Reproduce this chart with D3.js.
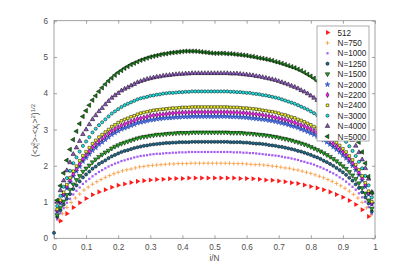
<!DOCTYPE html>
<html lang="en">
<head>
<meta charset="UTF-8">
<title>fluctuation profile</title>
<script src="https://d3js.org/d3.v7.min.js"></script>
<style>
  body { margin: 0; background: #fff; }
  svg { display: block; font-family: "Liberation Sans", Arial, sans-serif; }
</style>
</head>
<body>
<div id="chart"></div>
<script>
// series labels, in legend order
const seriesNames = ["512", "N=750", "N=1000", "N=1250", "N=1500", "N=2000", "N=2200", "N=2400", "N=3000", "N=4000", "N=5000"];

// values, x = i/n
const vals512 = [.48,.68,.85,.98,1.10,1.20,1.28,1.34,1.41,1.46,1.50,1.54,1.57,1.59,1.61,1.62,1.63,1.64,1.65,1.65,1.66,1.66,1.66,1.66,1.66,1.66,1.66,1.66,1.65,1.65,1.64,1.63,1.61,1.60,1.58,1.56,1.53,1.51,1.47,1.43,1.39,1.34,1.28,1.21,1.13,1.04,.93,.79,.60];
const vals750 = [.51,.68,.85,.99,1.11,1.22,1.33,1.41,1.49,1.56,1.62,1.68,1.73,1.78,1.82,1.86,1.89,1.91,1.94,1.97,1.98,2.00,2.01,2.02,2.03,2.04,2.05,2.05,2.06,2.06,2.06,2.07,2.07,2.07,2.07,2.07,2.07,2.07,2.07,2.07,2.07,2.06,2.06,2.06,2.05,2.04,2.03,2.03,2.02,2.01,1.99,1.98,1.96,1.94,1.93,1.90,1.88,1.85,1.82,1.79,1.75,1.71,1.67,1.62,1.57,1.51,1.45,1.38,1.30,1.21,1.11,.99,.84,.64];
const vals1000 = [.52,.69,.83,.98,1.09,1.21,1.31,1.40,1.50,1.57,1.64,1.71,1.77,1.83,1.88,1.93,1.98,2.02,2.06,2.09,2.13,2.15,2.18,2.20,2.23,2.25,2.27,2.28,2.29,2.31,2.32,2.33,2.33,2.34,2.35,2.35,2.36,2.36,2.37,2.37,2.37,2.38,2.38,2.38,2.38,2.38,2.38,2.38,2.38,2.38,2.38,2.38,2.38,2.38,2.38,2.37,2.37,2.37,2.36,2.36,2.35,2.35,2.34,2.33,2.32,2.31,2.30,2.29,2.28,2.27,2.25,2.23,2.22,2.20,2.18,2.16,2.13,2.11,2.08,2.06,2.03,1.99,1.96,1.92,1.88,1.83,1.79,1.74,1.68,1.63,1.56,1.49,1.42,1.34,1.24,1.13,1.01,.86,.67];
const vals1250 = [.15,.59,.77,.93,1.09,1.22,1.36,1.46,1.57,1.68,1.76,1.84,1.92,1.98,2.05,2.10,2.15,2.21,2.26,2.30,2.34,2.38,2.41,2.43,2.46,2.49,2.51,2.53,2.55,2.56,2.58,2.59,2.60,2.61,2.62,2.63,2.63,2.64,2.64,2.65,2.65,2.65,2.65,2.66,2.66,2.66,2.66,2.66,2.66,2.66,2.66,2.66,2.66,2.66,2.66,2.65,2.65,2.65,2.65,2.64,2.64,2.63,2.62,2.61,2.61,2.60,2.59,2.57,2.56,2.55,2.53,2.52,2.50,2.48,2.46,2.44,2.41,2.39,2.36,2.33,2.30,2.26,2.23,2.19,2.14,2.10,2.05,2.00,1.94,1.88,1.82,1.75,1.67,1.59,1.49,1.39,1.27,1.13,.96,.74];
const vals1500 = [.64,.85,1.02,1.20,1.34,1.49,1.61,1.72,1.84,1.93,2.01,2.10,2.18,2.25,2.31,2.37,2.42,2.48,2.53,2.57,2.61,2.64,2.67,2.70,2.73,2.76,2.78,2.80,2.81,2.83,2.84,2.86,2.86,2.87,2.88,2.89,2.89,2.90,2.91,2.91,2.91,2.91,2.92,2.92,2.92,2.92,2.92,2.92,2.92,2.92,2.92,2.92,2.92,2.92,2.91,2.91,2.91,2.91,2.90,2.89,2.89,2.88,2.87,2.86,2.85,2.84,2.83,2.81,2.80,2.78,2.76,2.74,2.72,2.70,2.67,2.65,2.62,2.59,2.56,2.52,2.48,2.44,2.40,2.35,2.30,2.25,2.19,2.13,2.06,1.99,1.92,1.83,1.74,1.64,1.52,1.39,1.24,1.05,.82];
const vals2000 = [.74,.97,1.18,1.38,1.55,1.71,1.85,1.98,2.12,2.22,2.32,2.42,2.50,2.59,2.65,2.72,2.79,2.86,2.91,2.96,3.01,3.04,3.07,3.11,3.14,3.18,3.20,3.22,3.24,3.26,3.27,3.29,3.30,3.31,3.32,3.32,3.33,3.34,3.34,3.35,3.35,3.35,3.36,3.36,3.36,3.36,3.36,3.36,3.36,3.36,3.36,3.36,3.36,3.36,3.35,3.35,3.35,3.34,3.34,3.33,3.32,3.31,3.30,3.29,3.28,3.27,3.25,3.24,3.22,3.20,3.18,3.16,3.13,3.10,3.08,3.05,3.01,2.98,2.94,2.90,2.86,2.81,2.76,2.71,2.65,2.59,2.52,2.45,2.38,2.29,2.21,2.11,2.00,1.88,1.75,1.60,1.42,1.21,.94];
const vals2200 = [.77,1.01,1.22,1.43,1.60,1.77,1.91,2.05,2.19,2.30,2.40,2.51,2.59,2.68,2.75,2.82,2.89,2.96,3.01,3.06,3.11,3.15,3.18,3.22,3.25,3.29,3.31,3.33,3.35,3.38,3.39,3.40,3.41,3.42,3.43,3.44,3.45,3.46,3.46,3.47,3.47,3.47,3.48,3.48,3.48,3.48,3.48,3.48,3.48,3.48,3.48,3.48,3.48,3.48,3.47,3.47,3.47,3.46,3.46,3.45,3.44,3.43,3.42,3.41,3.40,3.38,3.37,3.35,3.33,3.31,3.29,3.27,3.24,3.22,3.19,3.16,3.12,3.09,3.05,3.01,2.96,2.91,2.86,2.80,2.75,2.68,2.61,2.54,2.46,2.38,2.29,2.19,2.07,1.95,1.81,1.66,1.48,1.25,.97];
const vals2400 = [.80,1.05,1.27,1.48,1.67,1.85,1.99,2.14,2.28,2.39,2.50,2.61,2.70,2.79,2.86,2.93,3.00,3.08,3.13,3.19,3.24,3.28,3.31,3.35,3.38,3.42,3.45,3.47,3.49,3.51,3.53,3.54,3.55,3.56,3.57,3.58,3.59,3.59,3.60,3.61,3.61,3.61,3.62,3.62,3.62,3.62,3.62,3.62,3.62,3.62,3.62,3.62,3.62,3.62,3.61,3.61,3.61,3.60,3.59,3.59,3.58,3.57,3.56,3.55,3.53,3.52,3.50,3.49,3.47,3.45,3.42,3.40,3.37,3.34,3.32,3.28,3.25,3.21,3.17,3.13,3.08,3.03,2.98,2.92,2.86,2.79,2.72,2.64,2.56,2.47,2.38,2.27,2.16,2.03,1.89,1.72,1.53,1.30,1.01];
const vals3000 = [.89,1.17,1.42,1.66,1.86,2.07,2.23,2.39,2.55,2.67,2.79,2.92,3.02,3.12,3.20,3.28,3.36,3.44,3.50,3.56,3.62,3.67,3.71,3.75,3.79,3.83,3.86,3.88,3.90,3.93,3.94,3.96,3.97,3.99,4.00,4.01,4.01,4.02,4.03,4.03,4.04,4.04,4.05,4.05,4.05,4.05,4.05,4.05,4.05,4.05,4.05,4.05,4.05,4.05,4.04,4.04,4.03,4.03,4.02,4.01,4.01,3.99,3.98,3.97,3.95,3.94,3.92,3.90,3.88,3.86,3.83,3.80,3.77,3.74,3.71,3.67,3.63,3.59,3.55,3.50,3.45,3.39,3.33,3.26,3.20,3.12,3.04,2.96,2.86,2.77,2.66,2.54,2.41,2.27,2.11,1.93,1.72,1.46,1.13];
const vals4000 = [1.00,1.32,1.59,1.87,2.09,2.32,2.50,2.68,2.87,3.00,3.14,3.28,3.39,3.50,3.59,3.69,3.78,3.87,3.94,4.00,4.07,4.12,4.16,4.21,4.25,4.30,4.33,4.36,4.39,4.41,4.43,4.45,4.46,4.48,4.49,4.50,4.51,4.52,4.53,4.53,4.54,4.54,4.55,4.55,4.55,4.55,4.55,4.55,4.55,4.55,4.55,4.55,4.55,4.55,4.54,4.54,4.54,4.53,4.52,4.51,4.50,4.49,4.47,4.46,4.44,4.42,4.40,4.38,4.36,4.33,4.30,4.27,4.24,4.20,4.17,4.13,4.08,4.04,3.99,3.93,3.87,3.81,3.74,3.67,3.59,3.51,3.42,3.32,3.22,3.11,2.99,2.86,2.71,2.55,2.37,2.17,1.93,1.64,1.27];
const vals5000 = [1.05,1.45,1.80,2.15,2.45,2.72,2.95,3.16,3.36,3.52,3.67,3.81,3.93,4.05,4.15,4.25,4.34,4.42,4.50,4.57,4.63,4.69,4.74,4.79,4.83,4.87,4.91,4.94,4.97,5.00,5.02,5.04,5.06,5.08,5.09,5.11,5.12,5.13,5.14,5.15,5.16,5.16,5.16,5.16,5.15,5.14,5.13,5.12,5.11,5.10,5.10,5.10,5.10,5.09,5.09,5.08,5.07,5.06,5.05,5.04,5.02,5.01,4.99,4.97,4.96,4.94,4.92,4.90,4.87,4.85,4.82,4.79,4.76,4.73,4.70,4.66,4.62,4.57,4.52,4.47,4.41,4.34,4.27,4.19,4.11,4.02,3.92,3.81,3.69,3.56,3.42,3.26,3.08,2.88,2.65,2.38,2.07,1.70,1.25];

// sampling: x = (i + first) / n
const sampleN = [50, 75, 100, 100, 100, 100, 100, 100, 100, 100, 100];
const sampleFirst = [1, 1, 1, 0, 1, 1, 1, 1, 1, 1, 1];

const xTicks = [0, 0.1, 0.2, 0.3, 0.4, 0.5, 0.6, 0.7, 0.8, 0.9, 1];
const yTicks = [0, 1, 2, 3, 4, 5, 6];

const allVals = [vals512, vals750, vals1000, vals1250, vals1500, vals2000, vals2200, vals2400, vals3000, vals4000, vals5000];

// marker looks
const styles = [
  {type: d3.symbolTriangle, rot: 90, size: 11, fill: "#ff1a1a", stroke: "none"},
  {type: "plus", fill: "none", stroke: "#f7993a"},
  {type: d3.symbolSquare, rot: 0, size: 5, fill: "#a35df2", stroke: "none"},
  {type: d3.symbolCircle, rot: 0, size: 8, fill: "#1b6a8f", stroke: "#000"},
  {type: d3.symbolTriangle, rot: 180, size: 9, fill: "#1faa1f", stroke: "#000"},
  {type: d3.symbolStar, rot: 0, size: 8, fill: "#3b62d8", stroke: "#2a4bb0"},
  {type: d3.symbolDiamond, rot: 0, size: 8, fill: "#ff19ff", stroke: "#000"},
  {type: d3.symbolSquare, rot: 0, size: 7, fill: "#ffff1a", stroke: "#000"},
  {type: d3.symbolCircle, rot: 0, size: 8, fill: "#19e6e6", stroke: "#000"},
  {type: d3.symbolTriangle, rot: 0, size: 9, fill: "#8d56c2", stroke: "#000"},
  {type: d3.symbolTriangle, rot: -90, size: 9, fill: "#137a13", stroke: "#000"}
];

const width = 415, height = 268;
const margin = {top: 20.7, right: 40, bottom: 29.7, left: 54};

const svg = d3.select("#chart").append("svg")
  .attr("width", width)
  .attr("height", height);

const x = d3.scaleLinear().domain([0, 1]).range([margin.left, width - margin.right]);
const y = d3.scaleLinear().domain([0, 6]).range([height - margin.bottom, margin.top]);

const axisCol = "#8a8a8a", labelCol = "#4d4d4d";

// frame
svg.append("rect")
  .attr("x", x(0)).attr("y", y(6))
  .attr("width", x(1) - x(0)).attr("height", y(0) - y(6))
  .attr("fill", "none").attr("stroke", axisCol).attr("stroke-width", 0.8);

function styleAxis(g) {
  g.select(".domain").remove();
  g.selectAll(".tick line").attr("stroke", axisCol).attr("stroke-width", 0.8);
  g.selectAll(".tick text").attr("fill", labelCol).attr("font-size", 8.2);
}

svg.append("g").attr("transform", `translate(0,${y(0)})`)
  .call(d3.axisBottom(x).tickValues(xTicks).tickFormat(d3.format("")).tickSizeInner(-3).tickSizeOuter(0).tickPadding(6))
  .call(styleAxis);
svg.append("g").attr("transform", `translate(0,${y(6)})`)
  .call(d3.axisTop(x).tickValues(xTicks).tickFormat("").tickSizeInner(-3).tickSizeOuter(0))
  .call(styleAxis);
svg.append("g").attr("transform", `translate(${x(0)},0)`)
  .call(d3.axisLeft(y).tickValues(yTicks).tickFormat(d3.format("d")).tickSizeInner(-3).tickSizeOuter(0).tickPadding(6))
  .call(styleAxis);
svg.append("g").attr("transform", `translate(${x(1)},0)`)
  .call(d3.axisRight(y).tickValues(yTicks).tickFormat("").tickSizeInner(-3).tickSizeOuter(0))
  .call(styleAxis);

// axis titles
svg.append("text")
  .attr("x", x(0.5)).attr("y", 261)
  .attr("text-anchor", "middle").attr("font-size", 8.2).attr("fill", labelCol)
  .text("i/N");

const yl = svg.append("text")
  .attr("transform", `translate(38,${y(3) + 1}) rotate(-90)`)
  .attr("text-anchor", "middle").attr("font-size", 8.6).attr("fill", labelCol);
yl.append("tspan").text("(<x");
yl.append("tspan").attr("font-size", 6).attr("dy", 2).text("i");
yl.append("tspan").attr("font-size", 6).attr("dx", -2).attr("dy", -5.5).text("2");
yl.append("tspan").attr("dy", 3.5).text(">-<x");
yl.append("tspan").attr("font-size", 6).attr("dy", 2).text("i");
yl.append("tspan").attr("dy", -2).text(">");
yl.append("tspan").attr("font-size", 6).attr("dy", -3.5).text("2");
yl.append("tspan").attr("dy", 3.5).text(")");
yl.append("tspan").attr("font-size", 6).attr("dy", -3.5).text("1/2");

function drawMarker(sel, st, cx, cy) {
  if (st.type === "plus") {
    sel.append("path")
      .attr("d", `M${cx - 2},${cy}H${cx + 2}M${cx},${cy - 2}V${cy + 2}`)
      .attr("stroke", st.stroke).attr("stroke-width", 0.8).attr("fill", "none");
  } else {
    sel.append("path")
      .attr("d", d3.symbol().type(st.type).size(st.size)())
      .attr("transform", `translate(${cx},${cy}) rotate(${st.rot})`)
      .attr("fill", st.fill)
      .attr("stroke", st.stroke)
      .attr("stroke-width", 0.5);
  }
}

// markers
allVals.forEach((vals, s) => {
  const g = svg.append("g");
  vals.forEach((v, i) => {
    const xv = (i + sampleFirst[s]) / sampleN[s];
    drawMarker(g, styles[s], x(xv), y(v));
  });
});

// legend
const lg = svg.append("g").attr("transform", "translate(317,26)");
lg.append("rect")
  .attr("width", 52).attr("height", 115)
  .attr("fill", "#fff").attr("stroke", "#9a9a9a").attr("stroke-width", 0.8);
seriesNames.forEach((name, s) => {
  const yy = 6.5 + s * 10.4;
  drawMarker(lg, styles[s], 10.5, yy);
  lg.append("text")
    .attr("x", 20.5).attr("y", yy + 3)
    .attr("font-size", 8.2).attr("fill", "#262626")
    .text(name);
});
</script>
</body>
</html>
